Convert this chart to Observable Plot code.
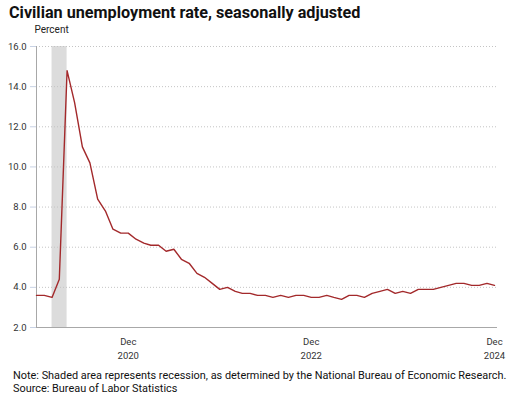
<!DOCTYPE html>
<html>
<head>
<meta charset="utf-8">
<script src="https://cdn.jsdelivr.net/npm/d3@7"></script>
<script src="https://cdn.jsdelivr.net/npm/@observablehq/plot@0.6"></script>
<style>
  html, body { margin: 0; padding: 0; background: #fff; }
  #wrap { position: relative; width: 514px; height: 397px; font-family: Roboto, "Open Sans", sans-serif; color: #222; }
  #title { position: absolute; left: 9px; top: 3px; font-size: 16.2px; font-weight: 700; line-height: 20px; white-space: nowrap; color: #111; }
  #chart { position: absolute; left: 0; top: 24px; }
  #note { position: absolute; left: 13px; top: 369px; font-size: 10.9px; line-height: 13px; white-space: nowrap; color: #111; }
</style>
</head>
<body>
<div id="wrap">
  <div id="title">Civilian unemployment rate, seasonally adjusted</div>
  <div id="chart"></div>
  <div id="note">Note: Shaded area represents recession, as determined by the National Bureau of Economic Research.<br>Source: Bureau of Labor Statistics</div>
</div>
<script>
// Monthly observations, Dec 2019 – Dec 2024
const months = [
  "2019-12",
  "2020-01","2020-02","2020-03","2020-04","2020-05","2020-06","2020-07","2020-08","2020-09","2020-10","2020-11","2020-12",
  "2021-01","2021-02","2021-03","2021-04","2021-05","2021-06","2021-07","2021-08","2021-09","2021-10","2021-11","2021-12",
  "2022-01","2022-02","2022-03","2022-04","2022-05","2022-06","2022-07","2022-08","2022-09","2022-10","2022-11","2022-12",
  "2023-01","2023-02","2023-03","2023-04","2023-05","2023-06","2023-07","2023-08","2023-09","2023-10","2023-11","2023-12",
  "2024-01","2024-02","2024-03","2024-04","2024-05","2024-06","2024-07","2024-08","2024-09","2024-10","2024-11","2024-12"
];
const rate = [
  3.6,
  3.6, 3.5, 4.4, 14.8, 13.2, 11.0, 10.2, 8.4, 7.8, 6.9, 6.7, 6.7,
  6.4, 6.2, 6.1, 6.1, 5.8, 5.9, 5.4, 5.2, 4.7, 4.5, 4.2, 3.9,
  4.0, 3.8, 3.7, 3.7, 3.6, 3.6, 3.5, 3.6, 3.5, 3.6, 3.6, 3.5,
  3.5, 3.6, 3.5, 3.4, 3.6, 3.6, 3.5, 3.7, 3.8, 3.9, 3.7, 3.8,
  3.7, 3.9, 3.9, 3.9, 4.0, 4.1, 4.2, 4.2, 4.1, 4.1, 4.2, 4.1
];
const recessionStart = "2020-02";
const recessionEnd = "2020-04";
const yTicks = [2, 4, 6, 8, 10, 12, 14, 16];
const xTicks = ["2020-12", "2022-12", "2024-12"];
const xTickMonth = "Dec";
const yLabel = "Percent";

const parse = d3.utcParse("%Y-%m");
const data = months.map((m, i) => ({date: parse(m), rate: rate[i]}));
const recession = [{start: parse(recessionStart), end: parse(recessionEnd)}];
const first = parse(months[0]);
const last = parse(months[months.length - 1]);

const chart = Plot.plot({
  width: 514,
  height: 341,
  marginTop: 22,
  marginLeft: 36,
  marginRight: 17,
  insetRight: 3,
  marginBottom: 38,
  style: {fontFamily: "Roboto, 'Open Sans', sans-serif", fontSize: "9.5px", color: "#333", background: "transparent"},
  x: {type: "utc", domain: [first, last]},
  y: {domain: [2, 16]},
  marks: [
    Plot.rect(recession, {x1: "start", x2: "end", fill: "#dcdcdc"}),
    Plot.gridY(yTicks, {stroke: "#c4c4c4", strokeOpacity: 1, strokeDasharray: "1,2"}),
    Plot.ruleX([first], {stroke: "#a8a8a8", strokeWidth: 1}),
    Plot.ruleY([2], {stroke: "#a8a8a8", strokeWidth: 1.2}),
    Plot.axisY(yTicks, {tickFormat: d => d.toFixed(1), tickSize: 6, tickPadding: 4, stroke: "#c8d2e4", label: null, fill: "#333"}),
    Plot.axisX(xTicks.map(parse), {tickSize: 0, tickPadding: 8, tickFormat: d => xTickMonth + "\n" + d.getUTCFullYear(), lineHeight: 1.45, label: null, fill: "#333"}),
    Plot.lineY(data, {x: "date", y: "rate", stroke: "#a3292b", strokeWidth: 1.4}),
    Plot.text([yLabel], {frameAnchor: "top-left", dx: -2, dy: -21, textAnchor: "start", fill: "#222", fontSize: 10})
  ]
});
document.getElementById("chart").appendChild(chart);
</script>
</body>
</html>
